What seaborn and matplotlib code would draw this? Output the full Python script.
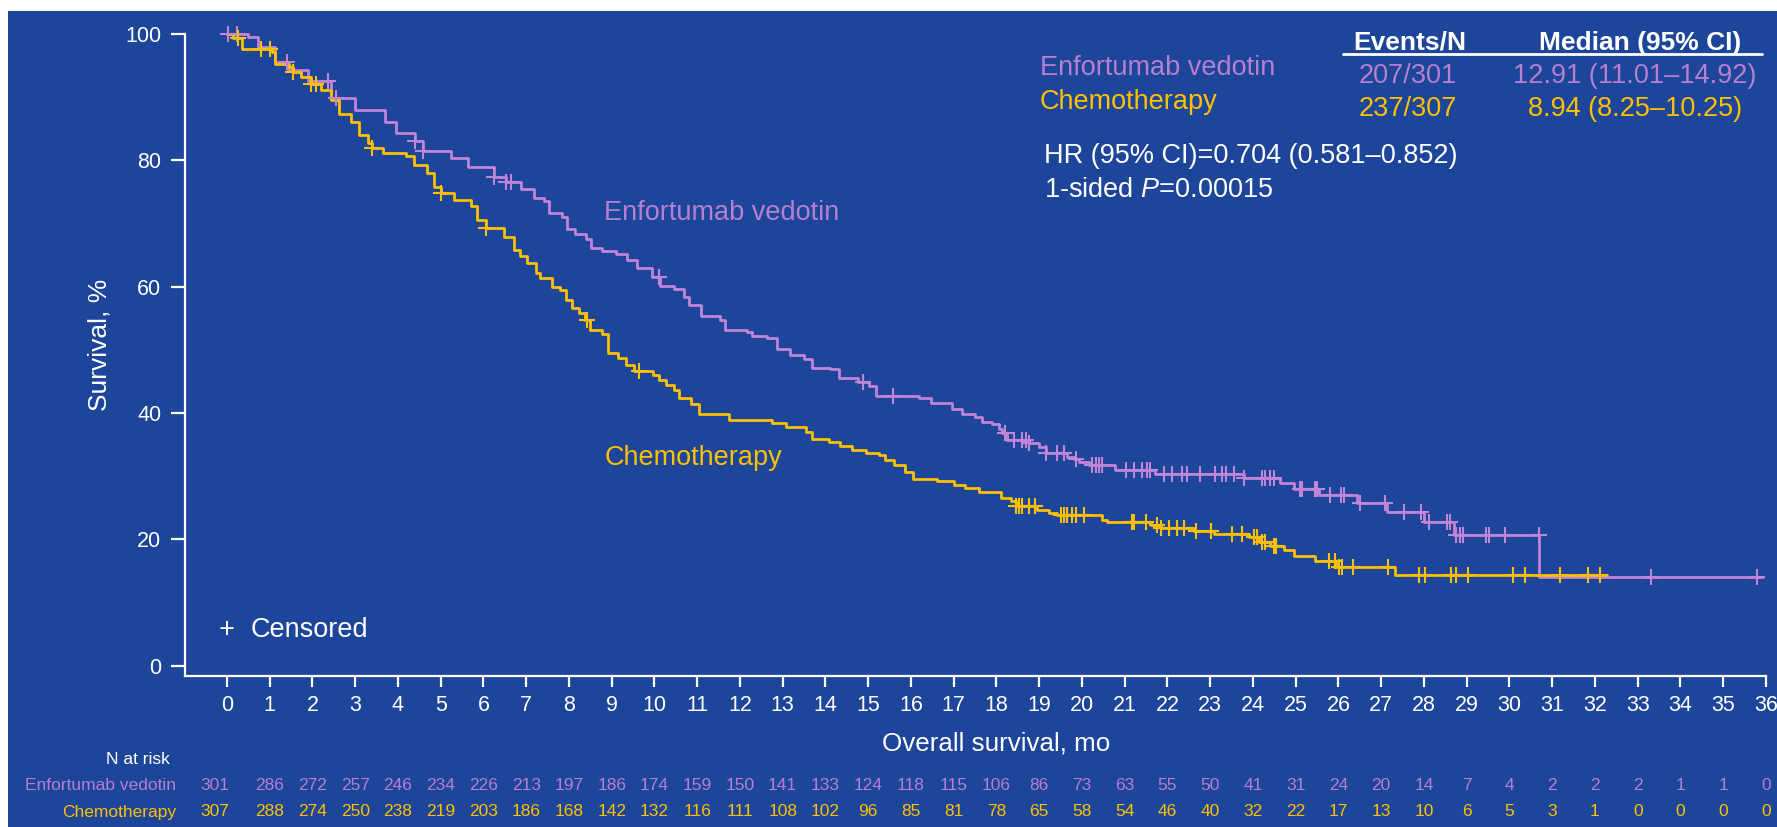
import numpy as np
import matplotlib
matplotlib.use("Agg")
import matplotlib.pyplot as plt
import matplotlib.transforms as mtransforms
from matplotlib.patches import Rectangle
import seaborn as sns

# Kaplan-Meier step points (months, survival %)
ev_time = [0, 0.49, 0.73, 1.12, 1.43, 1.9, 2.44, 2.99, 3.69, 3.96, 4.39, 4.58, 5.24, 5.63,
           6.25, 6.52, 6.87, 7.18, 7.41, 7.53, 7.84, 7.96, 8.15, 8.39, 8.51, 8.78, 9.09, 9.36,
           9.6, 9.94, 10.14, 10.45, 10.69, 10.8, 11.08, 11.54, 11.66, 12.17, 12.28, 12.63,
           12.87, 13.18, 13.49, 13.68, 14.11, 14.31, 14.77, 15.03, 15.18, 16.2, 16.47, 16.95,
           17.2, 17.5, 17.67, 17.9, 18.05, 18.13, 18.25, 18.76, 19.0, 19.15, 19.65, 19.81,
           19.93, 20.16, 20.78, 21.72, 23.78, 24.64, 24.96, 25.54, 26.44, 27.14, 28.0, 28.7,
           30.7, 35.94]
ev_surv = [100, 99.6, 98.0, 95.6, 94.3, 92.5, 89.8, 88.0, 86.1, 84.3, 83.0, 81.4, 80.3, 79.0,
           77.4, 76.5, 75.4, 74.0, 73.5, 71.6, 71.0, 69.2, 68.4, 67.6, 66.1, 65.6, 65.2, 64.2,
           63.0, 61.6, 60.1, 59.7, 58.4, 57.1, 55.4, 54.8, 53.1, 52.8, 52.2, 51.8,
           50.1, 49.2, 48.5, 47.2, 46.9, 45.6, 44.9, 44.2, 42.7, 42.3, 41.6, 40.6,
           39.8, 39.4, 38.6, 38.2, 37.4, 36.8, 35.7, 35.2, 34.7, 33.6, 33.1, 32.7,
           32.2, 31.8, 31.0, 30.4, 29.7, 28.9, 27.9, 27.0, 25.8, 24.4, 22.8, 20.7,
           14.0, 14.0]
ev_censor = [0.03, 0.23, 1.40, 2.36, 2.55, 4.41, 4.59, 6.25, 6.52, 6.64, 10.1, 14.89, 15.57,
             18.21, 18.41, 18.6, 18.68, 18.76, 19.15, 19.42, 19.58, 19.85, 20.24, 20.32, 20.4,
             20.48, 21.02, 21.21, 21.41, 21.52, 21.6, 21.92, 22.11, 22.35, 22.46, 22.77, 23.12,
             23.28, 23.36, 23.55, 23.78, 24.21, 24.29, 24.41, 24.49, 25.11, 25.15, 25.46, 25.5,
             25.81, 26.05, 26.12, 26.51, 27.1, 27.53, 27.92, 28.11, 28.54, 28.62, 28.76, 28.85,
             28.92, 29.44, 29.53, 29.90, 30.69, 33.3, 35.8]

ch_time = [0, 0.15, 0.35, 1.05, 1.12, 1.45, 1.55, 1.73, 1.97, 2.2, 2.44, 2.63, 2.9, 3.1, 3.29,
           3.4, 3.64, 4.18, 4.37, 4.69, 4.84, 5.0, 5.31, 5.7, 5.85, 6.05, 6.48, 6.71, 6.85, 7.02,
           7.22, 7.33, 7.6, 7.8, 7.92, 8.07, 8.23, 8.38, 8.5, 8.77, 8.92, 9.15, 9.34, 9.53, 9.96,
           10.11, 10.27, 10.46, 10.58, 10.85, 11.04, 11.75, 12.76, 13.07, 13.54, 13.69, 14.08,
           14.35, 14.63, 14.94, 15.25, 15.4, 15.6, 15.85, 16.05, 16.6, 17.0, 17.27, 17.59,
           18.1, 18.33, 18.45, 18.95, 19.23, 19.42, 20.47, 20.59, 21.61, 21.84, 22.62, 23.08,
           23.9, 24.14, 24.41, 24.72, 24.95, 25.44, 25.95, 27.33, 32.27]
ch_surv = [100, 99.3, 97.7, 97.2, 95.3, 94.8, 94.0, 93.2, 92.1, 91.1, 89.6, 87.4, 86.1, 84.0,
           82.7, 81.9, 81.1, 80.7, 79.3, 78.0, 75.8, 74.9, 73.7, 72.7, 70.5, 69.3, 67.8, 65.8,
           64.9, 63.7, 62.1, 61.3, 60.0, 59.5, 57.9, 56.6, 55.8, 54.7, 53.2, 52.5, 49.5, 48.7,
           47.6, 46.6, 46.0, 45.2, 44.4, 43.6, 42.3, 41.5, 39.9, 38.9, 38.4, 37.8, 37.0, 35.9,
           35.4, 34.8, 34.1, 33.7, 33.4, 32.6, 31.8, 30.6, 29.6, 29.2, 28.6, 28.2, 27.5,
           26.5, 26.0, 25.3, 24.6, 24.2, 23.8, 23.0, 22.8, 22.3, 21.8, 21.3, 20.8,
           20.3, 19.6, 18.9, 18.3, 17.4, 16.6, 15.6, 14.4, 14.4]
ch_censor = [0.25, 0.79, 1.0, 1.55, 1.97, 2.08, 3.4, 5.0, 6.05, 8.42, 9.65, 18.45, 18.52, 18.6,
             18.76, 18.91, 19.5, 19.58, 19.66, 19.77, 19.85, 20.04, 21.18, 21.22, 21.49, 21.76,
             21.84, 22.03, 22.23, 22.38, 22.66, 23.01, 23.51, 23.74, 24.02, 24.1, 24.21, 24.29,
             24.49, 24.53, 25.79, 25.91, 26.02, 26.08, 26.34, 27.15, 27.88, 28.03, 28.64, 28.76,
             29.03, 30.08, 30.37, 31.18, 31.83, 32.11]

risk_months = list(range(0, 37))
ev_risk = [301, 286, 272, 257, 246, 234, 226, 213, 197, 186, 174, 159, 150, 141, 133, 124, 118,
           115, 106, 86, 73, 63, 55, 50, 41, 31, 24, 20, 14, 7, 4, 2, 2, 2, 1, 1, 0]
ch_risk = [307, 288, 274, 250, 238, 219, 203, 186, 168, 142, 132, 116, 111, 108, 102, 96, 85,
           81, 78, 65, 58, 54, 46, 40, 32, 22, 17, 13, 10, 6, 5, 3, 1, 0, 0, 0, 0]

arms = ["Enfortumab vedotin", "Chemotherapy"]
events_n = ["207/301", "237/307"]
medians = ["12.91 (11.01\u201314.92)", "8.94 (8.25\u201310.25)"]
hr_text = "HR (95% CI)=0.704 (0.581\u20130.852)"
p_text = r"1-sided $\mathit{P}$=0.00015"

BG = "#1D4599"
PURPLE = "#C084D8"
PURPLE_TXT = "#B77FD0"
GOLD = "#FFC000"
WHITE = "white"

sns.set_theme(style="ticks")
plt.rcParams["font.family"] = ["Liberation Sans", "DejaVu Sans"]
plt.rcParams["mathtext.fontset"] = "custom"
plt.rcParams["mathtext.rm"] = "Liberation Sans"
plt.rcParams["mathtext.it"] = "Liberation Sans:italic"

W, H = 1777, 827
fig = plt.figure(figsize=(W / 100, H / 100), dpi=100, facecolor="white")
fig.patches.append(Rectangle((8 / W, 0), 1, 1 - 11 / H, transform=fig.transFigure,
                             facecolor=BG, edgecolor="none", zorder=-10))

ax = fig.add_axes([185 / W, (H - 676) / H, (1766 - 185) / W, (676 - 34) / H])
ax.set_facecolor(BG)
ax.patch.set_alpha(0)


def step_value(times, surv, t):
    idx = np.searchsorted(times, t, side="right") - 1
    return np.asarray(surv)[np.clip(idx, 0, len(surv) - 1)]


for times, surv, cens, col in [(ev_time, ev_surv, ev_censor, PURPLE),
                               (ch_time, ch_surv, ch_censor, GOLD)]:
    sns.lineplot(x=times, y=surv, ax=ax, color=col, lw=2.0, drawstyle="steps-post",
                 estimator=None, sort=False, clip_on=False, zorder=3)
    ax.plot(cens, step_value(times, surv, cens), ls="none", marker="+", ms=12, mew=1.5,
            color=col, clip_on=False, zorder=4)

ax.set_xlim(-0.98, 36)
ax.set_ylim(-1.63, 100)
ax.set_xticks(range(0, 37))
ax.set_yticks(range(0, 101, 20))
for side in ["top", "right"]:
    ax.spines[side].set_visible(False)
for side in ["left", "bottom"]:
    ax.spines[side].set_color(WHITE)
    ax.spines[side].set_linewidth(1.6)
ax.tick_params(axis="x", colors=WHITE, labelsize=15.5, length=8, width=1.6, pad=6)
ax.tick_params(axis="y", colors=WHITE, labelsize=15.5, length=10, width=1.6, pad=7)
ax.set_xlabel("")
ax.set_ylabel("")

fig.text(100 / W, 1 - 345 / H, "Survival, %", color=WHITE, fontsize=19, rotation=90,
         ha="center", va="center")

# x label and number-at-risk table, x in data units, y in figure units
bt = mtransforms.blended_transform_factory(ax.transData, fig.transFigure)
ax.text(18, 1 - 744 / H, "Overall survival, mo", transform=bt, color=WHITE, fontsize=18.7,
        ha="center", va="center")
ax.text(-1.33, 1 - 760 / H, "N at risk", transform=bt, color=WHITE, fontsize=12.5,
        ha="right", va="center")
for row_y, label, counts, col in [(786, arms[0], ev_risk, PURPLE_TXT),
                                  (812, arms[1], ch_risk, GOLD)]:
    ax.text(-1.18, 1 - row_y / H, label, transform=bt, color=col, fontsize=12.5,
            ha="right", va="center")
    for m, n in zip(risk_months, counts):
        xm = -0.28 if m == 0 else m
        ax.text(xm, 1 - row_y / H, str(n), transform=bt, color=col, fontsize=12.5,
                ha="center", va="center")

# in-plot curve labels and censor key
ax.text(8.83, 71.7, arms[0], color=PURPLE_TXT, fontsize=19.5, ha="left", va="center")
ax.text(8.83, 32.9, arms[1], color=GOLD, fontsize=19.5, ha="left", va="center")
ax.text(0, 5.65, "+", color=WHITE, fontsize=19.5, ha="center", va="center")
ax.text(0.55, 5.65, "Censored", color=WHITE, fontsize=19.5, ha="left", va="center")

# summary table at top right (figure pixel positions)
def ftext(x, y, s, **kw):
    fig.text(x / W, 1 - y / H, s, va="center", **kw)


ftext(1410, 43, "Events/N", color=WHITE, fontsize=19, fontweight="bold", ha="center")
ftext(1640, 43, "Median (95% CI)", color=WHITE, fontsize=19, fontweight="bold", ha="center")
fig.add_artist(plt.Line2D([1343 / W, 1762 / W], [1 - 54 / H, 1 - 54 / H], color=WHITE, lw=2))
ftext(1040, 68, arms[0], color=PURPLE_TXT, fontsize=19.5, ha="left")
ftext(1040, 102, arms[1], color=GOLD, fontsize=19.5, ha="left")
ftext(1408, 76, events_n[0], color=PURPLE_TXT, fontsize=19.5, ha="center")
ftext(1408, 109, events_n[1], color=GOLD, fontsize=19.5, ha="center")
ftext(1635, 76, medians[0], color=PURPLE_TXT, fontsize=19.5, ha="center")
ftext(1635, 109, medians[1], color=GOLD, fontsize=19.5, ha="center")
ftext(1044, 156, hr_text, color=WHITE, fontsize=19.5, ha="left")
ftext(1044, 190, p_text, color=WHITE, fontsize=19.5, ha="left")

fig.savefig("out.png", dpi=100, facecolor=fig.get_facecolor())
